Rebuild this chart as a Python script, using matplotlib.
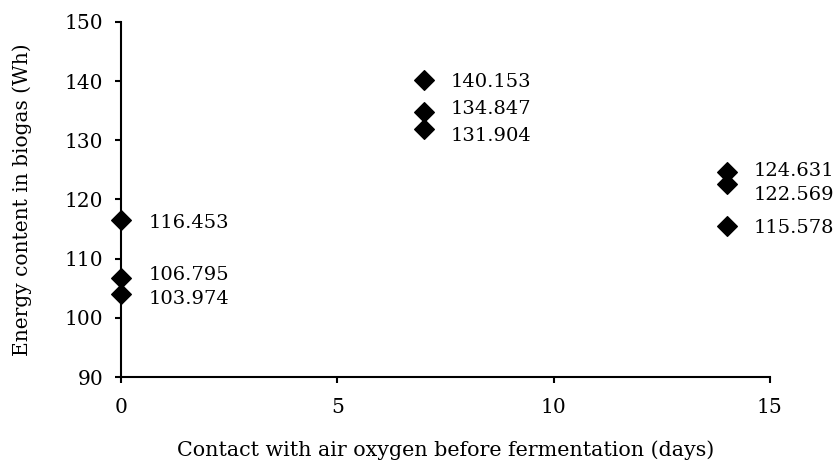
import matplotlib.pyplot as plt

# data
days = [0, 0, 0, 7, 7, 7, 14, 14, 14]
energy = [116.453, 106.795, 103.974, 140.153, 134.847, 131.904, 124.631, 122.569, 115.578]
labels = ['116.453', '106.795', '103.974', '140.153', '134.847', '131.904', '124.631', '122.569', '115.578']
x_ticks = [0, 5, 10, 15]
y_ticks = [90, 100, 110, 120, 130, 140, 150]

# small vertical nudges (points) so labels don't collide, as in the original
nudge = [-2, 2, -3, -1.5, 1.5, -5, 0.5, -7.5, -1.5]

plt.rcParams['font.family'] = ['DejaVu Serif']

fig = plt.figure(figsize=(8.35, 4.65), dpi=100)
ax = fig.add_axes([0.145, 0.189, 0.777, 0.764])

ax.scatter(days, energy, marker='D', s=100, color='black', zorder=3, clip_on=False)

for x, y, t, dy in zip(days, energy, labels, nudge):
    ax.annotate(t, (x, y), xytext=(19.5, dy), textcoords='offset points',
                ha='left', va='center', fontsize=14)

ax.set_xlim(0, 15)
ax.set_ylim(90, 150)
ax.set_xticks(x_ticks)
ax.set_yticks(y_ticks)

for s in ['top', 'right']:
    ax.spines[s].set_visible(False)
for s in ['left', 'bottom']:
    ax.spines[s].set_linewidth(1.5)

ax.tick_params(axis='both', direction='out', length=4, width=1.5, labelsize=14.5)
ax.tick_params(axis='x', pad=11)
ax.tick_params(axis='y', pad=9)

ax.set_xlabel('Contact with air oxygen before fermentation (days)', fontsize=14.9, labelpad=17)
ax.set_ylabel('Energy content in biogas (Wh)', fontsize=14.5, labelpad=23)

plt.savefig('out.png', dpi=100)
